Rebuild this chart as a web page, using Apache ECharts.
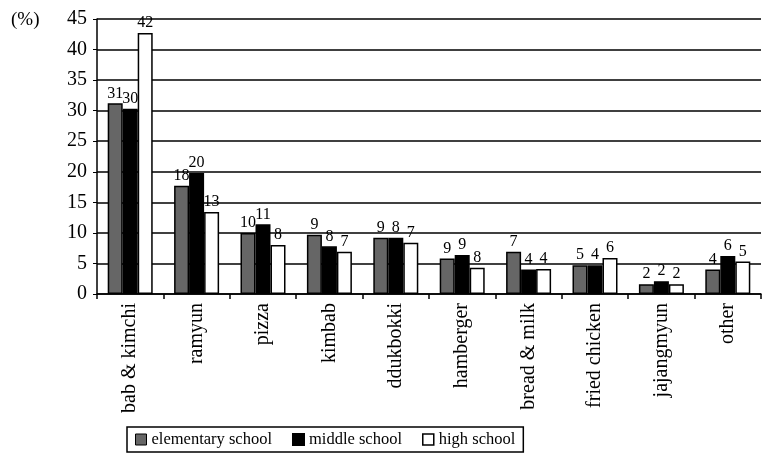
<!DOCTYPE html>
<html><head><meta charset="utf-8">
<script src="https://cdn.jsdelivr.net/npm/echarts@6/dist/echarts.min.js"></script>
<style>html,body{margin:0;padding:0;background:#fff}#c{width:767px;height:458px}</style>
</head><body><div id="c"></div>
<script>
var categories = ['bab & kimchi','ramyun','pizza','kimbab','ddukbokki','hamberger','bread & milk','fried chicken','jajangmyun','other'];
var elementary = [31.2, 17.7, 10, 9.7, 9.2, 5.8, 6.9, 4.7, 1.6, 4];
var middle = [30.3, 19.8, 11.4, 7.8, 9.2, 6.4, 4, 4.7, 2.1, 6.2];
var high = [42.7, 13.4, 8, 6.9, 8.4, 4.3, 4.1, 5.9, 1.6, 5.3];
var elementaryLabels = ['31','18','10','9','9','9','7','5','2','4'];
var middleLabels = ['30','20','11','8','8','9','4','4','2','6'];
var highLabels = ['42','13','8','7','7','8','4','6','2','5'];
var yTicks = [0,5,10,15,20,25,30,35,40,45];

var serif = '"Liberation Serif","DejaVu Serif",serif';
function mk(name, data, labels, color) {
  return {
    name: name, type: 'bar', data: data, barWidth: 15, barGap: '0%',
    itemStyle: {color: color, borderColor: '#000', borderWidth: 1.5},
    label: {show: true, position: 'top', distance: 2, fontFamily: serif, fontSize: 16, color: '#000',
      formatter: function (p) { return labels[p.dataIndex]; }}
  };
}
var chart = echarts.init(document.getElementById('c'));
chart.setOption({
  animation: false,
  grid: {left: 97, right: 6, top: 19, bottom: 164},
  legend: {
    bottom: 6, left: 127, itemWidth: 11, itemHeight: 11, itemGap: 20,
    borderColor: '#000', borderWidth: 1.5, padding: [4, 8],
    textStyle: {fontFamily: serif, fontSize: 16.5, color: '#000'},
    data: [
      {name: 'elementary school', icon: 'rect', itemStyle: {color: '#666', borderColor: '#000', borderWidth: 1}},
      {name: 'middle school', icon: 'rect'},
      {name: 'high school', icon: 'rect', itemStyle: {color: '#fff', borderColor: '#000', borderWidth: 1.5}}
    ]
  },
  graphic: [{type: 'text', left: 11, top: 11, style: {text: '(%)', font: '19px ' + serif, fill: '#000'}}],
  xAxis: {
    type: 'category', data: categories,
    axisLine: {lineStyle: {color: '#000', width: 1.5}},
    axisTick: {show: true, length: 5, lineStyle: {color: '#000', width: 1.5}},
    axisLabel: {rotate: 90, interval: 0, margin: 9, fontFamily: serif, fontSize: 20, color: '#000'}
  },
  yAxis: {
    type: 'value', min: 0, max: 45, interval: 5,
    axisLine: {show: true, lineStyle: {color: '#000', width: 1.5}},
    axisTick: {show: true, length: 4, lineStyle: {color: '#000'}},
    splitLine: {lineStyle: {color: '#000', width: 1.5}},
    axisLabel: {margin: 10, fontFamily: serif, fontSize: 20, color: '#000',
      formatter: function (v) { return yTicks.indexOf(v) >= 0 ? String(v) : ''; }}
  },
  series: [
    mk('elementary school', elementary, elementaryLabels, '#666'),
    mk('middle school', middle, middleLabels, '#000'),
    mk('high school', high, highLabels, '#fff')
  ]
});
</script></body></html>
